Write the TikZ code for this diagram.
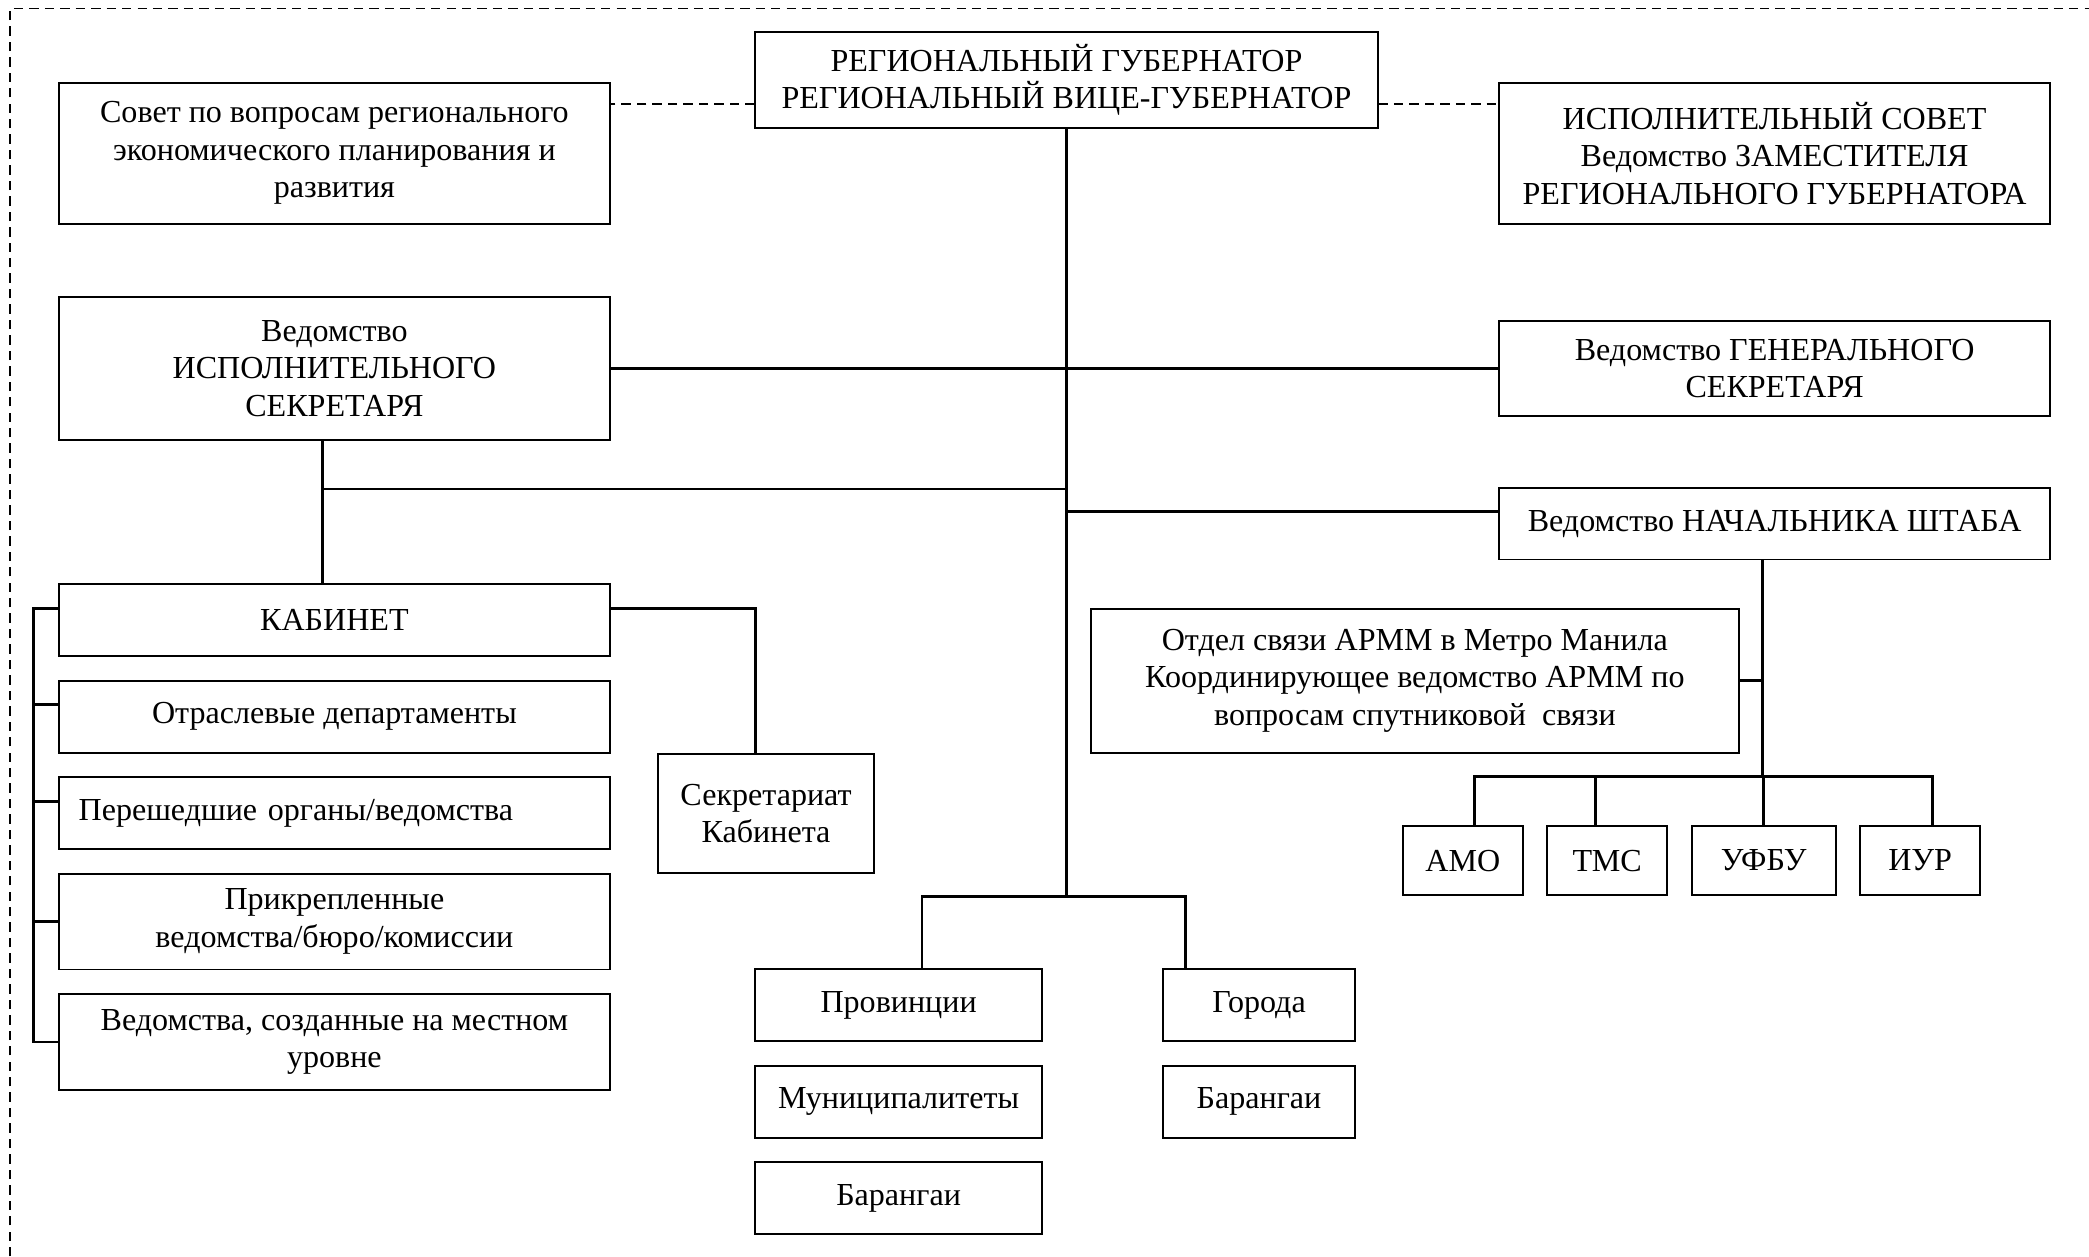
\documentclass[tikz,border=0pt]{standalone}
\usepackage{fontspec}
\setmainfont{Liberation Serif}
\usetikzlibrary{positioning}

\begin{document}
\begin{tikzpicture}[node distance=0.34cm,thick]

	\tikzstyle{box}=[draw,align=center,inner sep=2pt,font=\fontsize{13.7}{16}\selectfont]
	\tikzstyle{wide}=[box,minimum width=8.28cm]
	\tikzstyle{link}=[very thick]
	\tikzstyle{dashlink}=[line width=0.65pt,dash pattern=on 4pt off 2.6pt]

	\useasboundingbox (0,0) rectangle (31.36,-18.86);
	\draw[dashlink] (0.15,-18.86) -- (0.15,-0.13) -- (31.36,-0.13);

	\node[box,minimum width=9.34cm,minimum height=1.44cm] (gov) at (16.01,-1.20) {РЕГИОНАЛЬНЫЙ ГУБЕРНАТОР\\РЕГИОНАЛЬНЫЙ ВИЦЕ-ГУБЕРНАТОР};
	\node[wide,minimum height=2.12cm] (council) at (5.02,-2.30) {Совет по вопросам регионального\\экономического планирования и\\развития};
	\node[wide,minimum height=2.12cm] (excouncil) at (26.64,-2.30) {ИСПОЛНИТЕЛЬНЫЙ СОВЕТ\\Ведомство ЗАМЕСТИТЕЛЯ\\РЕГИОНАЛЬНОГО ГУБЕРНАТОРА};
	\node[wide,minimum height=2.14cm] (exsec) at (5.02,-5.53) {Ведомство\\ИСПОЛНИТЕЛЬНОГО\\СЕКРЕТАРЯ};
	\node[wide,minimum height=1.42cm] (gensec) at (26.64,-5.53) {Ведомство ГЕНЕРАЛЬНОГО\\СЕКРЕТАРЯ};
	\node[wide,minimum height=1.08cm] (chief) at (26.64,-7.86) {Ведомство НАЧАЛЬНИКА ШТАБА};

	% cabinet column
	\node[wide,minimum height=1.08cm] (cab) at (5.02,-9.31) {КАБИНЕТ};
	\node[wide,minimum height=1.08cm] (sector) [below=of cab] {Отраслевые департаменты};
	\node[wide,minimum height=1.08cm,text width=7.68cm,inner xsep=0.3cm,align=left] (transf) [below=of sector] {Перешедшие органы/ведомства};
	\node[wide,minimum height=1.44cm] (attach) [below=of transf] {Прикрепленные\\ведомства/бюро/комиссии};
	\node[wide,minimum height=1.44cm] (locl) [below=of attach] {Ведомства, созданные на местном\\уровне};
	\node[box,minimum width=3.24cm,minimum height=1.78cm] (cabsec) at (11.50,-12.21) {Секретариат\\Кабинета};

	% local units
	\node[box,minimum width=4.30cm,minimum height=1.08cm] (prov) at (13.49,-15.09) {Провинции};
	\node[box,minimum width=4.30cm,minimum height=1.08cm] (mun) [below=of prov] {Муниципалитеты};
	\node[box,minimum width=4.30cm,minimum height=1.08cm] (brgy) [below=of mun] {Барангаи};
	\node[box,minimum width=2.88cm,minimum height=1.08cm] (city) at (18.90,-15.09) {Города};
	\node[box,minimum width=2.88cm,minimum height=1.08cm] (citybrgy) [below=of city] {Барангаи};

	% chief of staff units
	\node[box,minimum width=9.72cm,minimum height=2.16cm] (liaison) at (21.24,-10.22) {Отдел связи АРММ в Метро Манила\\Координирующее ведомство АРММ по\\вопросам спутниковой\ \ связи};
	\node[box,minimum width=1.80cm,minimum height=1.04cm] (amo) at (21.96,-12.92) {АМО};
	\node[box,minimum width=1.80cm,minimum height=1.04cm] (tmc) [right=of amo] {ТМС};
	\node[box,minimum width=2.16cm,minimum height=1.04cm] (ufbu) [right=of tmc] {УФБУ};
	\node[box,minimum width=1.80cm,minimum height=1.04cm] (iur) [right=of ufbu] {ИУР};

	\coordinate (dl) at ([yshift=-0.36cm]gov.west);
	\coordinate (dr) at ([yshift=-0.36cm]gov.east);
	\draw[dashlink] (dl) -- (dl -| council.east);
	\draw[dashlink] (dr) -- (dr -| excouncil.west);

	% main line
	\coordinate (split) at ([yshift=-11.52cm]gov.south);
	\draw[link] (gov.south) -- (split);
	\draw[link] (exsec.east) -- (gensec.west);
	\coordinate (ex) at ([xshift=-0.18cm]exsec.south);
	\draw[link] (ex) -- (ex |- cab.north);
	\draw[link] (ex |- 0,-7.34) -- (gov.south |- 0,-7.34);
	\coordinate (ch) at ([yshift=0.18cm]chief.west);
	\draw[link] (ch) -- (ch -| gov.south);

	\coordinate (cs) at ([xshift=-0.16cm]cabsec.north);
	\draw[link] ([yshift=0.17cm]cab.east) -| (cs);
	\draw[link] ([yshift=0.17cm]cab.west) -- ++(-0.36,0) |- (locl.west);
	\foreach \n/\dy in {sector/0.18,transf/0.18,attach/0}
		\draw[link] ([yshift=\dy cm]\n.west) -- ++(-0.36,0);

	\coordinate (pv) at ([xshift=0.35cm]prov.north);
	\coordinate (ct) at ([xshift=-1.10cm]city.north);
	\draw[link] (pv) -- (pv |- split) -- (ct |- split) -- (ct);

	\coordinate (cd) at ([xshift=-0.18cm]chief.south);
	\coordinate (bus) at (cd |- 0,-11.66);
	\draw[link] (cd) -- (bus);
	\draw[link] (liaison.east) -- (liaison.east -| cd);
	\coordinate (a1) at ([xshift=0.18cm]amo.north);
	\coordinate (a2) at ([xshift=-0.18cm]tmc.north);
	\coordinate (a4) at ([xshift=0.18cm]iur.north);
	\draw[link] (a1) |- (bus) -| (a4);
	\draw[link] (a2) -- (a2 |- bus);
	\draw[link] (ufbu.north) -- (ufbu.north |- bus);

\end{tikzpicture}
\end{document}
